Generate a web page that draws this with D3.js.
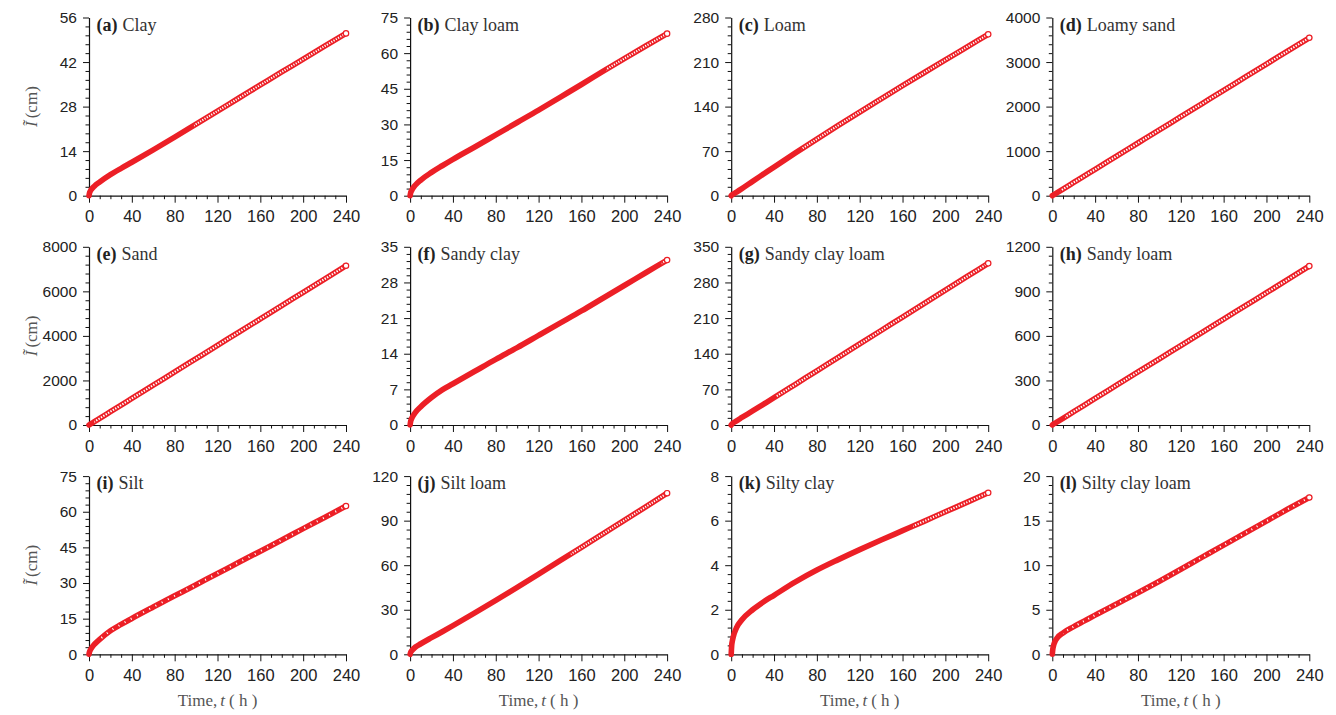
<!DOCTYPE html>
<html>
<head>
<meta charset="utf-8">
<script src="https://cdn.jsdelivr.net/npm/d3@7/dist/d3.min.js"></script>
<style>
  body { margin: 0; background: #fff; }
  .tick text { font-family: "Liberation Sans", Arial, sans-serif; fill: #222; }
  .serif { font-family: "Liberation Serif", "Times New Roman", serif; }
</style>
</head>
<body>
<div class="fig"></div>
<script>

// time samples (h) shared by all panels
var times = [0, 0.5, 1, 2, 5, 10, 20, 30, 40, 60, 80, 100, 120, 140, 160, 180, 200, 220, 240];

var letters = ["a", "b", "c", "d", "e", "f", "g", "h", "i", "j", "k", "l"];
var soils = ["Clay", "Clay loam", "Loam", "Loamy sand", "Sand", "Sandy clay",
             "Sandy clay loam", "Sandy loam", "Silt", "Silt loam", "Silty clay", "Silty clay loam"];
var yMax  = [56, 75, 280, 4000, 8000, 35, 350, 1200, 75, 120, 8, 20];
var yStep = [14, 15, 70, 1000, 2000, 7, 70, 300, 15, 30, 2, 5];
// time after which the marker spacing opens up (the chain of open circles)
var denseUntil = [98, 183, 66, 8, 5, 235, 42, 12, 10, 150, 170, 10];

// cumulative infiltration (cm), one array per soil
var clay          = [0, 0.9, 1.3, 1.9, 3.0, 4.3, 6.6, 8.6, 10.5, 14.4, 18.4, 22.5, 26.6, 30.7, 34.8, 38.9, 42.9, 47.0, 51.0];
var clayLoam      = [0, 1.2, 1.8, 2.7, 4.5, 6.6, 9.8, 12.6, 15.3, 20.4, 25.6, 30.8, 36.0, 41.4, 46.8, 52.3, 57.7, 63.0, 68.2];
var loam          = [0, 1.0, 1.6, 2.7, 5.8, 11.2, 22.6, 33.8, 45, 67.2, 89, 110.5, 131.5, 152.2, 172.8, 193.2, 213.4, 233.5, 253.6];
var loamySand     = [0, 8, 16, 31, 75, 149, 297, 445, 592, 888, 1183, 1478, 1774, 2069, 2364, 2660, 2955, 3250, 3545];
var sand          = [0, 16, 31, 61, 150, 299, 597, 895, 1192, 1788, 2383, 2979, 3575, 4170, 4766, 5362, 5957, 6553, 7150];
var sandyClay     = [0, 0.7, 1.05, 1.5, 2.5, 3.6, 5.4, 6.9, 8.1, 10.5, 12.9, 15.2, 17.6, 20.0, 22.4, 24.9, 27.4, 29.9, 32.4];
var sandyClayLoam = [0, 1.6, 2.6, 4.2, 8.3, 14.8, 27.6, 40.6, 53.6, 80, 106.5, 132.8, 159.2, 185.6, 212, 238.4, 264.8, 291.2, 317.6];
var sandyLoam     = [0, 3, 5.5, 10, 23, 45, 90, 134, 179, 268, 357, 446, 535, 624, 713, 802, 891, 980, 1070];
var silt          = [0, 1.1, 1.6, 2.4, 4.2, 6.3, 9.9, 12.6, 15.1, 19.9, 24.6, 29.3, 34.0, 38.7, 43.4, 48.1, 52.9, 57.6, 62.4];
var siltLoam      = [0, 1.3, 1.9, 2.8, 4.9, 7.1, 11.2, 15.2, 19.3, 27.7, 36.3, 45.1, 54.0, 63.0, 72.0, 81.1, 90.2, 99.3, 108.5];
var siltyClay     = [0, 0.42, 0.58, 0.8, 1.2, 1.55, 2.0, 2.35, 2.65, 3.25, 3.78, 4.25, 4.7, 5.13, 5.55, 5.97, 6.4, 6.82, 7.25];
var siltyClayLoam = [0, 0.6, 0.9, 1.3, 1.9, 2.4, 3.1, 3.75, 4.4, 5.65, 6.9, 8.2, 9.55, 10.9, 12.25, 13.6, 14.95, 16.3, 17.6];

var series = [clay, clayLoam, loam, loamySand, sand, sandyClay,
              sandyClayLoam, sandyLoam, silt, siltLoam, siltyClay, siltyClayLoam];

var xTicks = [0, 40, 80, 120, 160, 200, 240];

// look of the open-circle chain (white gaps inside the markers)
var chainDash = ["1.2 1.4", "1.2 1.4", "1.2 1.4", "1.4 1.4", "1.4 1.4", "1.2 1.4",
                 "1.3 1.4", "1.4 1.4", "1 6", "1.2 1.4", "1.2 1.6", "1 5"];

var red = "#ec1f26";
var W = 1336, H = 715;
var marginLeft = 89, marginTop = 17.5, colGap = 321.1, rowGap = 229.3;
var pw = 257, ph = 178.2;

var svg = d3.select(".fig").append("svg")
    .attr("width", W)
    .attr("height", H);

svg.append("rect").attr("width", W).attr("height", H).attr("fill", "#fff");

var defs = svg.append("defs");

soils.forEach(function(name, i) {
  var col = i % 4, row = Math.floor(i / 4);
  var g = svg.append("g")
      .attr("transform", "translate(" + (marginLeft + col * colGap) + "," + (marginTop + row * rowGap) + ")");

  var x = d3.scaleLinear().domain([0, 240]).range([0, pw]);
  var y = d3.scaleLinear().domain([0, yMax[i]]).range([ph, 0]);

  var yMajor = d3.range(0, yMax[i] + yStep[i] / 2, yStep[i]);
  var yMinor = d3.range(0, yMax[i] + 1e-9, yStep[i] / 5).filter(function(v) {
    return Math.abs(v / yStep[i] - Math.round(v / yStep[i])) > 1e-6;
  });
  var xMinor = d3.range(0, 241, 10).filter(function(v) { return v % 40 !== 0; });

  // minor ticks
  g.append("g")
      .attr("transform", "translate(0," + ph + ")")
      .call(d3.axisBottom(x).tickValues(xMinor).tickSize(3.5).tickFormat(""))
      .call(function(a) { a.select(".domain").remove(); });
  g.append("g")
      .call(d3.axisLeft(y).tickValues(yMinor).tickSize(3.5).tickFormat(""))
      .call(function(a) { a.select(".domain").remove(); });

  // major ticks
  g.append("g")
      .attr("transform", "translate(0," + ph + ")")
      .call(d3.axisBottom(x).tickValues(xTicks).tickSize(7).tickSizeOuter(0).tickPadding(8))
      .call(function(a) { a.selectAll("text").style("font-size", "16.5px"); });
  g.append("g")
      .call(d3.axisLeft(y).tickValues(yMajor).tickSize(6).tickSizeOuter(0).tickPadding(6).tickFormat(d3.format("d")))
      .call(function(a) { a.selectAll("text").style("font-size", "15.5px"); });

  g.selectAll(".domain").attr("stroke", "#111").attr("stroke-width", 1.2);
  g.selectAll(".tick line").attr("stroke", "#111").attr("stroke-width", 1);

  var pts = times.map(function(t, k) { return [t, series[i][k]]; });
  var line = d3.line()
      .x(function(d) { return x(d[0]); })
      .y(function(d) { return y(d[1]); })
      .curve(d3.curveMonotoneX);

  // thick band of overlapping markers
  g.append("path")
      .attr("d", line(pts))
      .attr("fill", "none")
      .attr("stroke", red)
      .attr("stroke-width", 5.6)
      .attr("stroke-linecap", "round");

  // open-circle texture where markers are spaced out
  var clipId = "clip" + i;
  defs.append("clipPath").attr("id", clipId)
    .append("rect")
      .attr("x", x(denseUntil[i]))
      .attr("y", -10)
      .attr("width", pw + 10)
      .attr("height", ph + 20);

  g.append("path")
      .attr("d", line(pts))
      .attr("clip-path", "url(#" + clipId + ")")
      .attr("fill", "none")
      .attr("stroke", "#fff")
      .attr("stroke-width", 2.1)
      .attr("stroke-dasharray", chainDash[i]);

  // last marker
  var last = pts[pts.length - 1];
  g.append("circle")
      .attr("cx", x(last[0]))
      .attr("cy", y(last[1]))
      .attr("r", 2.7)
      .attr("fill", "#fff")
      .attr("stroke", red)
      .attr("stroke-width", 1.2);

  // panel title
  var title = g.append("text")
      .attr("class", "serif")
      .attr("x", 7.5)
      .attr("y", 13)
      .style("font-size", "18px")
      .attr("fill", "#222");
  title.append("tspan").style("font-weight", "bold").text("(" + letters[i] + ")");
  title.append("tspan").attr("dx", 5).attr("fill", "#333").text(name);

  // axis titles
  if (col === 0) {
    var yl = g.append("text")
        .attr("class", "serif")
        .attr("transform", "translate(-52," + (ph / 2) + ") rotate(-90)")
        .attr("text-anchor", "middle")
        .style("font-size", "17px")
        .attr("fill", "#555");
    yl.append("tspan").style("font-style", "italic").text("\u0128");
    yl.append("tspan").attr("dx", 3).text("(cm)");
  }
  if (row === 2) {
    var xl = g.append("text")
        .attr("class", "serif")
        .attr("x", pw / 2)
        .attr("y", ph + 52)
        .attr("text-anchor", "middle")
        .style("font-size", "17px")
        .attr("fill", "#555");
    xl.append("tspan").text("Time,");
    xl.append("tspan").style("font-style", "italic").attr("dx", 3).text("t");
    xl.append("tspan").attr("dx", 4).text("( h )");
  }
});

</script>
</body>
</html>
